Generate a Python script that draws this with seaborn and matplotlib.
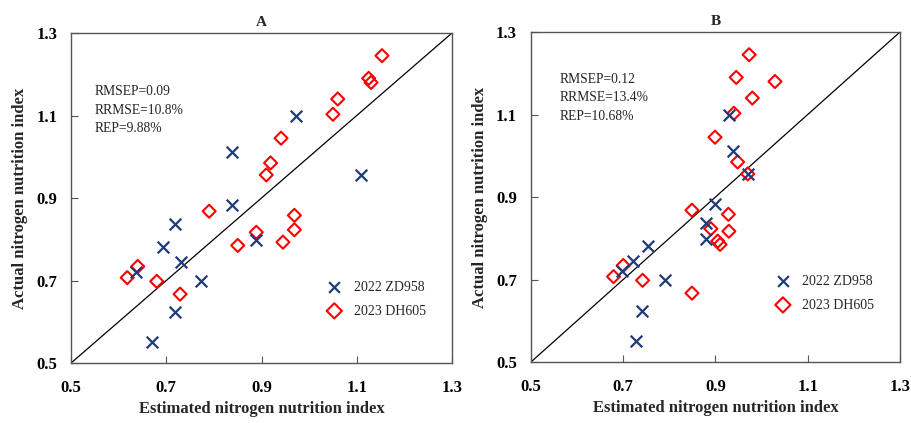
import matplotlib
matplotlib.use("Agg")
import matplotlib.pyplot as plt
import seaborn as sns
import pandas as pd

sns.set_theme(style="white")
plt.rcParams['font.family'] = ['Liberation Serif', 'DejaVu Serif']

# Actual NNI (shared by both panels)
actual_2022 = [1.098, 1.011, 0.956, 0.883, 0.837, 0.798, 0.782, 0.744, 0.720, 0.700, 0.624, 0.552]
actual_2023 = [1.245, 1.19, 1.18, 1.14, 1.103, 1.045, 0.985, 0.956, 0.868, 0.858,
               0.823, 0.817, 0.793, 0.785, 0.734, 0.707, 0.698, 0.667]
# Estimated NNI, panel A
est_A_2022 = [0.972, 0.838, 1.109, 0.838, 0.718, 0.889, 0.694, 0.731, 0.637, 0.772, 0.718, 0.669]
est_A_2023 = [1.153, 1.125, 1.130, 1.060, 1.050, 0.941, 0.919, 0.910, 0.790, 0.969,
              0.969, 0.889, 0.945, 0.850, 0.640, 0.618, 0.680, 0.729]
# Estimated NNI, panel B
est_B_2022 = [0.930, 0.939, 0.970, 0.898, 0.880, 0.880, 0.753, 0.721, 0.697, 0.791, 0.740, 0.728]
est_B_2023 = [0.973, 0.945, 1.029, 0.980, 0.940, 0.899, 0.948, 0.970, 0.849, 0.928,
              0.890, 0.929, 0.905, 0.910, 0.700, 0.679, 0.742, 0.849]

series_names = ["2022 ZD958", "2023 DH605"]
panel_titles = ["A", "B"]
stats_A = ["RMSEP=0.09", "RRMSE=10.8%", "REP=9.88%"]
stats_B = ["RMSEP=0.12", "RRMSE=13.4%", "REP=10.68%"]
ticks = [0.5, 0.7, 0.9, 1.1, 1.3]
tick_labels = ["0.5", "0.7", "0.9", "1.1", "1.3"]

navy = "#1f3b78"
red = "#ff0000"

fig = plt.figure(figsize=(9.12, 4.23), dpi=100)
axA = fig.add_axes([0.0779, 0.1418, 0.4177, 0.7802])
axB = fig.add_axes([0.5822, 0.1442, 0.4046, 0.7801])

panels = [
    (axA, est_A_2022, est_A_2023, stats_A, (0.062, 0.69), (0.64, 0.10)),
    (axB, est_B_2022, est_B_2023, stats_B, (0.078, 0.725), (0.63, 0.115)),
]

for i, (ax, e22, e23, stats, stat_pos, leg_pos) in enumerate(panels):
    d22 = pd.DataFrame({"est": e22, "act": actual_2022})
    d23 = pd.DataFrame({"est": e23, "act": actual_2023})
    ax.plot([0.5, 1.3], [0.5, 1.3], color="black", lw=0.9, zorder=1)
    sns.scatterplot(data=d22, x="est", y="act", ax=ax, marker="x", color=navy,
                    s=70, linewidth=1.6, label=series_names[0], zorder=3)
    sns.scatterplot(data=d23, x="est", y="act", ax=ax, marker="D", facecolor="none",
                    edgecolor=red, s=44, linewidth=1.5, label=series_names[1], zorder=2)
    ax.set_xlim(0.5, 1.3)
    ax.set_ylim(0.5, 1.3)
    ax.set_xticks(ticks)
    ax.set_xticklabels(tick_labels, fontsize=12, fontweight="bold")
    ax.set_yticks(ticks)
    ax.set_yticklabels(tick_labels, fontsize=12, fontweight="bold")
    ax.tick_params(direction="in", length=5, width=0.8, color="#555555",
                   bottom=True, left=True, labelcolor="black")
    ax.tick_params(axis="x", pad=12)
    ax.tick_params(axis="y", pad=10)
    for sp in ax.spines.values():
        sp.set_color("#555555")
        sp.set_linewidth(1.0)
    ax.set_xlabel("Estimated nitrogen nutrition index", fontsize=12, fontweight="bold", labelpad=4)
    ax.set_ylabel("Actual nitrogen nutrition index", fontsize=12, fontweight="bold", labelpad=6)
    ax.set_title(panel_titles[i], fontsize=11, fontweight="bold", pad=5)
    ax.text(stat_pos[0], stat_pos[1], "\n".join(stats), transform=ax.transAxes,
            fontsize=9.8, linespacing=1.55, va="bottom", ha="left")
    leg = ax.legend(loc="lower left", bbox_to_anchor=leg_pos, frameon=False,
                    fontsize=10, handletextpad=0.9, labelspacing=0.75, handlelength=1.0)
    for h in leg.legend_handles:
        h.set_sizes([60])

fig.savefig("out.png", dpi=100)
